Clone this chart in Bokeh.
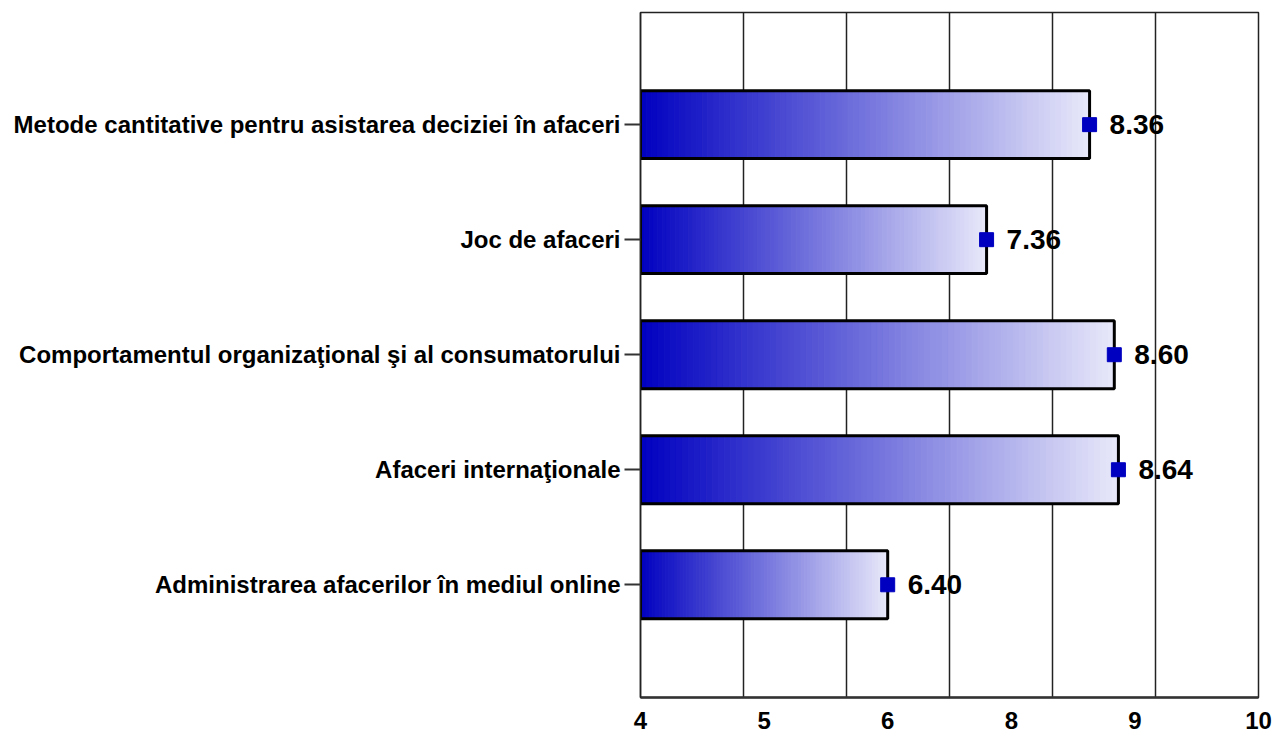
import numpy as np
from bokeh.plotting import figure
from bokeh.models import Range1d, FixedTicker, ColumnDataSource
from bokeh.core.properties import value
from bokeh.embed import file_html
from bokeh.resources import INLINE

# ---- data ----
categories = [
    "Metode cantitative pentru asistarea deciziei în afaceri",
    "Joc de afaceri",
    "Comportamentul organizaţional şi al consumatorului",
    "Afaceri internaţionale",
    "Administrarea afacerilor în mediul online",
]
scores = [8.36, 7.36, 8.60, 8.64, 6.40]
score_labels = ["8.36", "7.36", "8.60", "8.64", "6.40"]
tick_labels = ["4", "5", "6", "8", "9", "10"]
x_min, x_max = 4, 10

FONT = "Liberation Sans"
n = len(categories)
ypos = [n - i for i in range(n)]  # first category on top

p = figure(
    frame_width=618, frame_height=685,
    x_range=Range1d(x_min, x_max), y_range=Range1d(0.02, n + 0.975),
    output_backend="svg", toolbar_location=None,
    min_border_left=640, min_border_top=12, min_border_right=22, min_border_bottom=42,
)
p.background_fill_color = "white"
p.border_fill_color = "white"
p.outline_line_color = "#222222"
p.outline_line_width = 1.5

# grid
p.xgrid.ticker = FixedTicker(ticks=list(range(x_min, x_max + 1)))
p.xgrid.grid_line_color = "#222222"
p.xgrid.grid_line_width = 1.5
p.ygrid.grid_line_color = None

# gradient bars built from slices
N = 80
c0 = np.array([0, 0, 192])
c1 = np.array([232, 232, 250])
L, R, T, B, C = [], [], [], [], []
bar_h = 0.59
for y, v in zip(ypos, scores):
    edges = np.linspace(x_min, v, N + 1)
    for k in range(N):
        t = (k + 0.5) / N
        col = (c0 + (c1 - c0) * t).round().astype(int)
        L.append(edges[k]); R.append(edges[k + 1])
        T.append(y + bar_h / 2); B.append(y - bar_h / 2)
        C.append("#%02x%02x%02x" % tuple(col))
p.quad(left=L, right=R, top=T, bottom=B, fill_color=C, line_color=C, line_width=1)

src = ColumnDataSource(dict(y=ypos, v=scores, lab=score_labels))
p.hbar(y="y", left=x_min, right="v", height=bar_h, source=src,
       fill_color=None, line_color="black", line_width=3)
p.scatter(x="v", y="y", source=src, marker="square", size=14,
          fill_color="#0000C0", line_color="#0000C0")
p.text(x="v", y="y", text="lab", source=src, x_offset=20,
       text_align="left", text_baseline="middle",
       text_font=value(FONT), text_font_style="bold", text_font_size="28px",
       text_color="black")

# x axis: evenly spaced labels
xt = [float(t) for t in np.linspace(x_min, x_max, len(tick_labels))]
p.xaxis.ticker = FixedTicker(ticks=xt)
p.xaxis.major_label_overrides = {t: l for t, l in zip(xt, tick_labels)}
p.xaxis.major_tick_out = 0
p.xaxis.major_tick_in = 0
p.xaxis.minor_tick_out = 0
p.xaxis.minor_tick_in = 0
p.xaxis.axis_line_color = "#333333"
p.xaxis.axis_line_width = 2.5
p.xaxis.major_label_standoff = 14
p.xaxis.major_label_text_font = FONT
p.xaxis.major_label_text_font_style = "bold"
p.xaxis.major_label_text_font_size = "24px"
p.xaxis.major_label_text_color = "black"

# y axis: category names
p.yaxis.ticker = FixedTicker(ticks=ypos)
p.yaxis.major_label_overrides = {y: c for y, c in zip(ypos, categories)}
p.yaxis.major_tick_out = 16
p.yaxis.major_tick_in = 0
p.yaxis.minor_tick_out = 0
p.yaxis.minor_tick_in = 0
p.yaxis.major_tick_line_color = "#333333"
p.yaxis.major_tick_line_width = 2
p.yaxis.axis_line_color = "#222222"
p.yaxis.axis_line_width = 1.5
p.yaxis.major_label_standoff = 4
p.yaxis.major_label_text_font = FONT
p.yaxis.major_label_text_font_style = "bold"
p.yaxis.major_label_text_font_size = "24px"
p.yaxis.major_label_text_color = "black"

open("out.html", "w").write(file_html(p, INLINE))
